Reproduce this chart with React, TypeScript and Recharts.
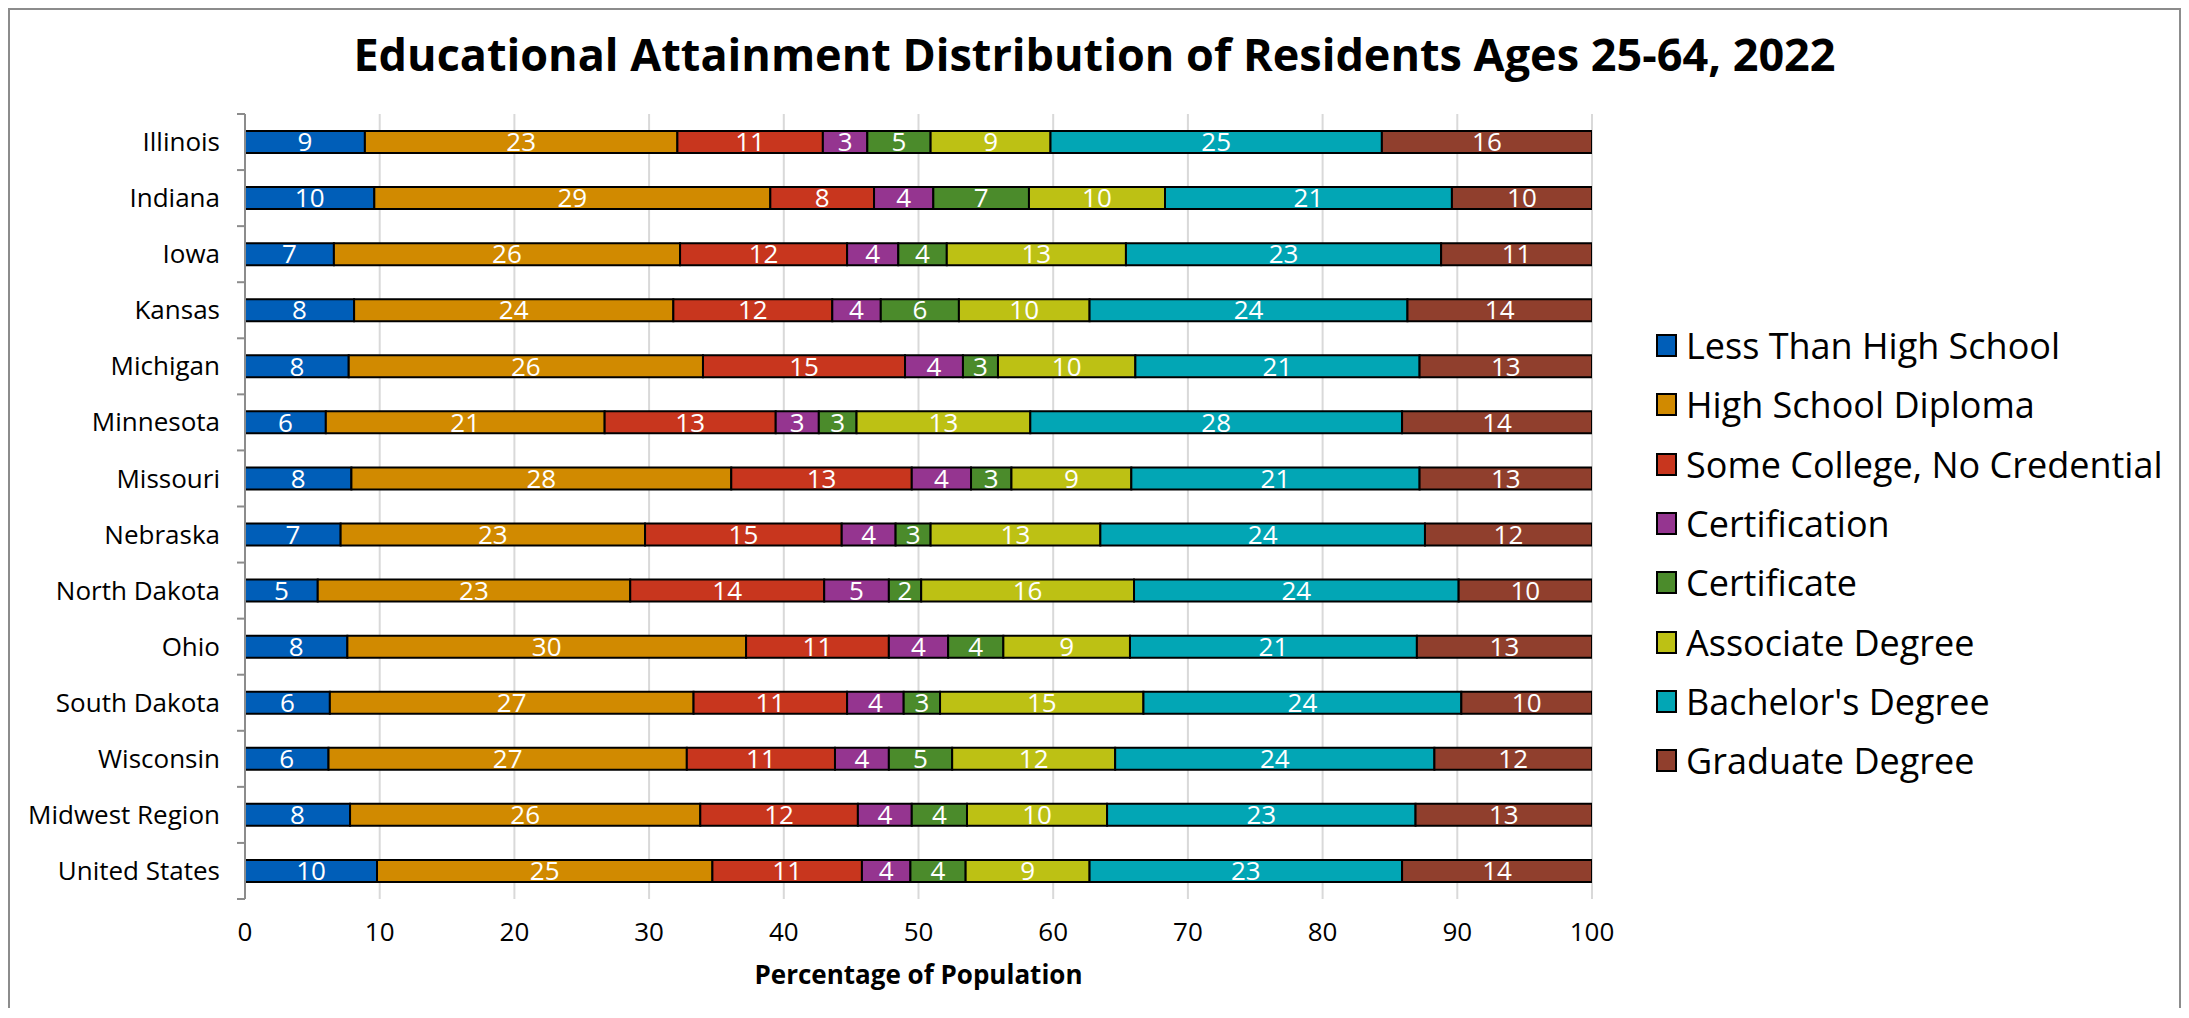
import React from "react";
import {
  BarChart,
  Bar,
  XAxis,
  YAxis,
  CartesianGrid,
  Legend,
  LabelList,
} from "recharts";

const categories = [
  "Illinois",
  "Indiana",
  "Iowa",
  "Kansas",
  "Michigan",
  "Minnesota",
  "Missouri",
  "Nebraska",
  "North Dakota",
  "Ohio",
  "South Dakota",
  "Wisconsin",
  "Midwest Region",
  "United States",
];

const lessThanHighSchool = [8.9, 9.6, 6.6, 8.1, 7.7, 6.0, 7.9, 7.1, 5.4, 7.6, 6.3, 6.2, 7.8, 9.8];
const highSchoolDiploma = [23.2, 29.4, 25.7, 23.7, 26.3, 20.7, 28.2, 22.6, 23.2, 29.6, 27.0, 26.6, 26.0, 24.9];
const someCollege = [10.8, 7.7, 12.4, 11.8, 15.0, 12.7, 13.4, 14.6, 14.4, 10.6, 11.4, 11.0, 11.7, 11.1];
const certification = [3.3, 4.4, 3.8, 3.6, 4.3, 3.2, 4.4, 4.0, 4.8, 4.4, 4.2, 4.0, 4.0, 3.6];
const certificate = [4.7, 7.1, 3.6, 5.8, 2.6, 2.8, 3.0, 2.6, 2.4, 4.1, 2.7, 4.7, 4.1, 4.1];
const associateDegree = [8.9, 10.1, 13.3, 9.7, 10.2, 12.9, 8.9, 12.6, 15.8, 9.4, 15.1, 12.1, 10.4, 9.2];
const bachelorsDegree = [24.6, 21.3, 23.4, 23.6, 21.1, 27.6, 21.4, 24.1, 24.1, 21.3, 23.6, 23.7, 22.9, 23.2];
const graduateDegree = [15.6, 10.4, 11.2, 13.7, 12.8, 14.1, 12.8, 12.4, 9.9, 13.0, 9.7, 11.7, 13.1, 14.1];

const xTicks = [0, 10, 20, 30, 40, 50, 60, 70, 80, 90, 100];

const series = [
  { key: "lessThanHighSchool", name: "Less Than High School", color: "#005eb8", values: lessThanHighSchool },
  { key: "highSchoolDiploma", name: "High School Diploma", color: "#d18a00", values: highSchoolDiploma },
  { key: "someCollege", name: "Some College, No Credential", color: "#c8361e", values: someCollege },
  { key: "certification", name: "Certification", color: "#953590", values: certification },
  { key: "certificate", name: "Certificate", color: "#4b8b2b", values: certificate },
  { key: "associateDegree", name: "Associate Degree", color: "#bdc114", values: associateDegree },
  { key: "bachelorsDegree", name: "Bachelor's Degree", color: "#02a6b5", values: bachelorsDegree },
  { key: "graduateDegree", name: "Graduate Degree", color: "#903f2d", values: graduateDegree },
];

const data = categories.map((name, i) => {
  const row: Record<string, string | number> = { name };
  series.forEach((s) => {
    row[s.key] = s.values[i];
  });
  return row;
});

// layout
const CHART_W = 2169;
const CHART_H = 998;
const MARGIN = { top: 104, right: 587, bottom: 9, left: 0 };
const Y_AXIS_W = 235;
const X_AXIS_H = 100;
const TICK_SIZE = 8;
const TICK_MARGIN = 17;
const BAND = (CHART_H - MARGIN.top - MARGIN.bottom - X_AXIS_H) / categories.length;
const AXIS_GRAY = "#8c8c8c";
const FONT = "'Open Sans', 'Noto Sans', sans-serif";

// category label plus a tick mark on the boundary between bands
const CategoryTick = (props: any) => {
  const { x, y, payload, index } = props;
  const axisX = x + TICK_SIZE + TICK_MARGIN;
  const half = BAND / 2;
  return (
    <g>
      <line x1={axisX - TICK_SIZE} x2={axisX} y1={y - half} y2={y - half} stroke={AXIS_GRAY} strokeWidth={2} />
      {index === categories.length - 1 && (
        <line x1={axisX - TICK_SIZE} x2={axisX} y1={y + half} y2={y + half} stroke={AXIS_GRAY} strokeWidth={2} />
      )}
      <text x={x} y={y} dy="0.35em" textAnchor="end" fontSize={26} fill="#000" fontFamily={FONT}>
        {payload.value}
      </text>
    </g>
  );
};

const renderLegend = () => (
  <div style={{ fontFamily: FONT }}>
    {series.map((s) => (
      <div key={s.key} style={{ display: "flex", alignItems: "center", height: 59.3 }}>
        <span
          style={{
            display: "inline-block",
            width: 17,
            height: 19,
            background: s.color,
            border: "2px solid #000",
            marginRight: 9,
          }}
        />
        <span style={{ fontSize: 36, color: "#000", whiteSpace: "nowrap" }}>{s.name}</span>
      </div>
    ))}
  </div>
);

export default function App() {
  return (
    <div
      style={{
        position: "relative",
        boxSizing: "border-box",
        width: 2173,
        height: 1000,
        borderTop: `2px solid ${AXIS_GRAY}`,
        borderLeft: `2px solid ${AXIS_GRAY}`,
        borderRight: `2px solid ${AXIS_GRAY}`,
        fontFamily: FONT,
        background: "#fff",
      }}
    >
      <div
        style={{
          position: "absolute",
          top: 19,
          left: 0,
          width: "100%",
          textAlign: "center",
          fontSize: 45,
          fontWeight: 700,
          lineHeight: "50px",
          color: "#000",
        }}
      >
        Educational Attainment Distribution of Residents Ages 25-64, 2022
      </div>
      <BarChart width={CHART_W} height={CHART_H} data={data} layout="vertical" margin={MARGIN}>
        <CartesianGrid horizontal={false} stroke="#d9d9d9" strokeWidth={2} />
        <XAxis
          type="number"
          domain={[0, 100]}
          ticks={xTicks}
          allowDataOverflow
          axisLine={false}
          tickLine={false}
          tickSize={8}
          tickMargin={16}
          height={X_AXIS_H}
          tick={{ fontSize: 26, fill: "#000", fontFamily: FONT }}
          label={{
            value: "Percentage of Population",
            position: "insideBottom",
            offset: 15,
            fontSize: 26,
            fontWeight: 700,
            fill: "#000",
            fontFamily: FONT,
          }}
        />
        <YAxis
          type="category"
          dataKey="name"
          width={Y_AXIS_W}
          axisLine={{ stroke: AXIS_GRAY, strokeWidth: 2 }}
          tickLine={false}
          tickSize={TICK_SIZE}
          tickMargin={TICK_MARGIN}
          tick={<CategoryTick />}
          interval={0}
        />
        <Legend
          layout="vertical"
          align="center"
          verticalAlign="middle"
          content={renderLegend}
          wrapperStyle={{ left: 1646, top: 306, width: 520 }}
        />
        {series.map((s) => (
          <Bar
            key={s.key}
            dataKey={s.key}
            name={s.name}
            stackId="a"
            fill={s.color}
            stroke="#000"
            strokeWidth={2}
            barSize={22}
            isAnimationActive={false}
          >
            <LabelList
              dataKey={s.key}
              position="center"
              formatter={(v: any) => Math.round(Number(v))}
              fill="#fff"
              fontSize={26}
              fontFamily={FONT}
            />
          </Bar>
        ))}
      </BarChart>
    </div>
  );
}
